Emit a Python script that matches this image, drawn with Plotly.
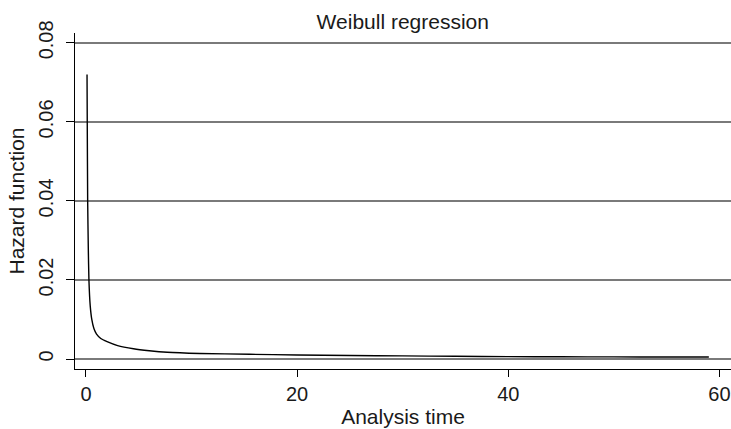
import plotly.graph_objects as go

# Fitted Weibull hazard, read at selected analysis times
analysis_time = [0.10, 0.12, 0.16, 0.22, 0.28, 0.40, 0.55, 0.75, 1.0, 1.4,
                 2.0, 3.0, 4.5, 6.0, 7.7, 10.8, 15.5, 20.0, 25.0, 30.0, 35.0,
                 40.0, 45.0, 50.0, 55.0, 59.0]
hazard = [0.0720, 0.0600, 0.0400, 0.0280, 0.0200, 0.0135, 0.0100, 0.0077,
          0.0063, 0.0052, 0.0044, 0.0034, 0.0026, 0.0021, 0.0017, 0.0014,
          0.0012, 0.0010, 0.00088, 0.00078, 0.00068, 0.00060, 0.00056,
          0.00053, 0.00051, 0.00050]

x_ticks = [0, 20, 40, 60]
y_ticks = [0, 0.02, 0.04, 0.06, 0.08]
y_tick_text = ["0", "0.02", "0.04", "0.06", "0.08"]

FONT = "Liberation Sans, Arial, Helvetica, sans-serif"
INK = "#1a1a1a"

fig = go.Figure()
fig.add_trace(go.Scatter(
    x=analysis_time, y=hazard, mode="lines",
    line=dict(color="black", width=1.4, shape="spline", smoothing=0.5),
    showlegend=False, hoverinfo="skip",
))

fig.update_layout(
    width=731, height=429,
    margin=dict(l=75, r=0, t=33, b=60),
    paper_bgcolor="white", plot_bgcolor="white",
    font=dict(family=FONT, size=20, color=INK),
    title=dict(text="Weibull regression", x=0.551, xanchor="center",
               y=1 - 22 / 429, yanchor="middle", yref="container",
               font=dict(family=FONT, size=21, color=INK)),
)

fig.update_xaxes(
    range=[-1.04, 61.1], tickmode="array", tickvals=x_ticks,
    showline=True, linecolor="black", linewidth=1.2,
    ticks="outside", ticklen=7, tickcolor="black", tickwidth=1.2,
    showgrid=False, zeroline=False,
    tickfont=dict(family=FONT, size=20, color=INK),
    title=dict(text="Analysis time", standoff=5,
               font=dict(family=FONT, size=21, color=INK)),
    automargin=False,
)
fig.update_yaxes(
    range=[-0.00253, 0.0825], tickmode="array", tickvals=y_ticks,
    ticktext=y_tick_text, tickangle=-90, ticklabelstandoff=5,
    showline=True, linecolor="black", linewidth=1.2,
    ticks="outside", ticklen=8, tickcolor="black", tickwidth=1.2,
    showgrid=True, gridcolor="#7a7a7a", gridwidth=1.5, zeroline=False,
    tickfont=dict(family=FONT, size=20, color=INK),
    title=dict(text="Hazard function", standoff=4,
               font=dict(family=FONT, size=21, color=INK)),
    automargin=False,
)

fig.write_html("out.html")
